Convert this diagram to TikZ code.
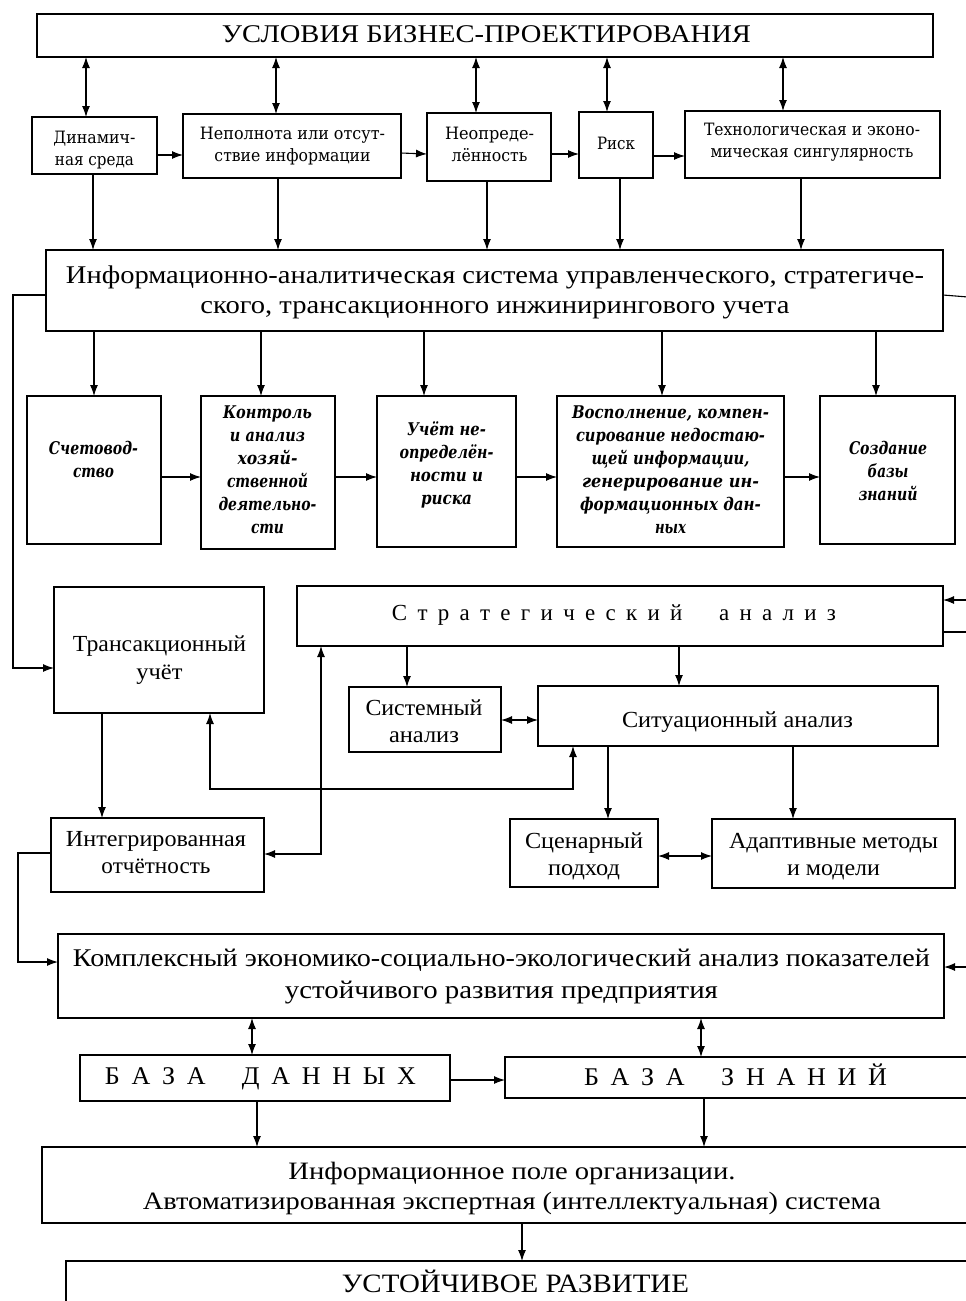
\documentclass[tikz,border=0pt]{standalone}
\usepackage{fontspec}
\usepackage{graphicx}
\setmainfont{Liberation Serif}
\newfontfamily\cam{DejaVu Serif}
\usetikzlibrary{arrows.meta}
\newcommand{\fitl}[2]{\resizebox{#1pt}{\height}{\rule{0pt}{0.75em}\rule[-0.25em]{0pt}{0.25em}#2}}
\newcommand{\lsp}{\hspace{0.45em}}
\begin{document}
\begin{tikzpicture}[x=1pt,y=-1pt,
  box/.style={draw, line width=1.3pt, inner sep=0pt, outer sep=0pt},
  lbl/.style={inner sep=0pt, outer sep=0pt, align=center},
  fbig/.style={font=\fontsize{25.5}{30}\selectfont},
  fkmp/.style={font=\fontsize{25.5}{32}\selectfont},
  fmid/.style={font=\fontsize{23}{28}\selectfont},
  fsys/.style={font=\fontsize{23}{27}\selectfont},
  fcam/.style={font={\cam\fontsize{17}{22}\selectfont}},
  fita/.style={font={\cam\bfseries\itshape\fontsize{17.5}{23}\selectfont}},
  con/.style={line width=1.1pt, -{Latex[length=11pt,width=8pt]}},
  bi/.style={line width=1.1pt, {Latex[length=11pt,width=8pt]}-{Latex[length=11pt,width=8pt]}},
  ln/.style={line width=1.1pt}]
\useasboundingbox (0,0) rectangle (966,1301);
\fill[white] (0,0) rectangle (966,1301);
\clip (0,0) rectangle (966,1301);

% boxes
\node[box, minimum width=896pt, minimum height=43pt] (top) at (485,35.5) {};
\node[box, minimum width=125pt, minimum height=57pt] (dyn) at (94.5,145.5) {};
\node[box, minimum width=218pt, minimum height=64pt] (nep) at (292,146) {};
\node[box, minimum width=124pt, minimum height=68pt] (neo) at (489,147) {};
\node[box, minimum width=74pt, minimum height=66pt] (risk) at (616,145) {};
\node[box, minimum width=255pt, minimum height=67pt] (tech) at (812.5,144.5) {};
\node[box, minimum width=897pt, minimum height=81pt] (ias) at (494.5,290.5) {};
\node[box, minimum width=134pt, minimum height=148pt] (sch) at (94,470) {};
\node[box, minimum width=134pt, minimum height=153pt] (ktr) at (268,472.5) {};
\node[box, minimum width=139pt, minimum height=151pt] (uch) at (446.5,471.5) {};
\node[box, minimum width=227pt, minimum height=151pt] (vos) at (670.5,471.5) {};
\node[box, minimum width=135pt, minimum height=148pt] (soz) at (887.5,470) {};
\node[box, minimum width=210pt, minimum height=126pt] (trn) at (159,650) {};
\node[box, minimum width=646pt, minimum height=60pt] (str) at (620,616) {};
\node[box, minimum width=152pt, minimum height=65pt] (sys) at (425,719.5) {};
\node[box, minimum width=400pt, minimum height=60pt] (sit) at (738,716) {};
\node[box, minimum width=213pt, minimum height=74pt] (int) at (157.5,855) {};
\node[box, minimum width=148pt, minimum height=68pt] (scn) at (584,853) {};
\node[box, minimum width=243pt, minimum height=69pt] (adp) at (833.5,853.5) {};
\node[box, minimum width=886pt, minimum height=84pt] (kmp) at (501,976) {};
\node[box, minimum width=370pt, minimum height=46pt] (bd) at (265,1078) {};
\node[box, minimum width=465pt, minimum height=41pt] (bz) at (737.5,1077.5) {};
\node[box, minimum width=948pt, minimum height=76pt] (inf) at (516,1185) {};
\node[box, minimum width=924pt, minimum height=69pt] (ust) at (528,1295.5) {};

% texts
\node[lbl, fbig] (t-top) at (486.5,36) {\fitl{529}{УСЛОВИЯ БИЗНЕС-ПРОЕКТИРОВАНИЯ}};
\node[lbl, fcam] (t-dyn) at (94.5,150) {\fitl{82}{Динамич-}\\\fitl{79}{ная среда}};
\node[lbl, fcam] (t-nep) at (292.5,146) {\fitl{185}{Неполнота или отсут-}\\\fitl{156}{ствие информации}};
\node[lbl, fcam] (t-neo) at (489.5,146.5) {\fitl{89}{Неопреде-}\\\fitl{76}{лённость}};
\node[lbl, fcam] (t-risk) at (616,145) {\fitl{38}{Риск}};
\node[lbl, fcam] (t-tech) at (812,142.5) {\fitl{216}{Технологическая и эконо-}\\\fitl{203}{мическая сингулярность}};
\node[lbl, fbig] (t-ias) at (495,292) {\fitl{858}{Информационно-аналитическая система управленческого, стратегиче-}\\\fitl{589}{ского, трансакционного инжинирингового учета}};
\node[lbl, fita] (t-sch) at (93.5,462) {\fitl{89}{Счетовод-}\\\fitl{41}{ство}};
\node[lbl, fita] (t-ktr) at (267.5,472) {\fitl{89}{Контроль}\\\fitl{75}{и анализ}\\\fitl{60}{хозяй-}\\\fitl{81}{ственной}\\\fitl{98}{деятельно-}\\\fitl{33}{сти}};
\node[lbl, fita] (t-uch) at (446.5,465.5) {\fitl{79}{Учёт не-}\\\fitl{94}{определён-}\\\fitl{73}{ности и}\\\fitl{51}{риска}};
\node[lbl, fita] (t-vos) at (670.5,471.5) {\fitl{197}{Восполнение, компен-}\\\fitl{189}{сирование недостаю-}\\\fitl{158}{щей информации,}\\\fitl{177}{генерирование ин-}\\\fitl{181}{формационных дан-}\\\fitl{31}{ных}};
\node[lbl, fita] (t-soz) at (888,473) {\fitl{78}{Создание}\\\fitl{41}{базы}\\\fitl{59}{знаний}};
\node[lbl, fmid] (t-trn) at (159.5,660) {\fitl{173}{Трансакционный}\\\fitl{46}{учёт}};
\node[lbl, fmid] (t-str) at (614,615) {\fitl{444}{С\lsp т\lsp р\lsp а\lsp т\lsp е\lsp г\lsp и\lsp ч\lsp е\lsp с\lsp к\lsp и\lsp й\hspace{1.6em}а\lsp н\lsp а\lsp л\lsp и\lsp з}};
\node[lbl, fsys] (t-sys) at (424,723.5) {\fitl{117}{Системный}\\\fitl{70}{анализ}};
\node[lbl, fmid] (t-sit) at (737.5,722) {\fitl{231}{Ситуационный анализ}};
\node[lbl, fsys] (t-int) at (156,854.5) {\fitl{180}{Интегрированная}\\\fitl{109}{отчётность}};
\node[lbl, fsys] (t-scn) at (584,856.5) {\fitl{118}{Сценарный}\\\fitl{72}{подход}};
\node[lbl, fsys] (t-adp) at (833.5,856.5) {\fitl{209}{Адаптивные методы}\\\fitl{93}{и модели}};
\node[lbl, fkmp] (t-kmp) at (501.5,976) {\fitl{857}{Комплексный экономико-социально-экологический анализ показателей}\\\fitl{433}{устойчивого развития предприятия}};
\node[lbl, fbig] (t-bd) at (260.5,1078) {\fitl{311}{Б\lsp А\lsp З\lsp А\hspace{1.4em}Д\lsp А\lsp Н\lsp Н\lsp Ы\lsp Х}};
\node[lbl, fbig] (t-bz) at (735.5,1078) {\fitl{303}{Б\lsp А\lsp З\lsp А\hspace{1.4em}З\lsp Н\lsp А\lsp Н\lsp И\lsp Й}};
\node[lbl, font=\fontsize{25}{30}\selectfont] (t-inf) at (512,1188) {\fitl{447}{Информационное поле организации.}\\\fitl{738}{Автоматизированная экспертная (интеллектуальная) система}};
\node[lbl, font=\fontsize{26.5}{30}\selectfont] (t-ust) at (515.5,1285) {\fitl{347}{УСТОЙЧИВОЕ РАЗВИТИЕ}};

% free ends at the right edge
\coordinate (e1) at (968,297);
\coordinate (e2) at (968,600);
\coordinate (e3) at (968,632);
\coordinate (e4) at (968,967);

% title <-> row 2
\draw[bi] (top.south -| 86,0) -- (dyn.north -| 86,0);
\draw[bi] (top.south -| 276,0) -- (nep.north -| 276,0);
\draw[bi] (top.south -| 476,0) -- (neo.north -| 476,0);
\draw[bi] (top.south -| 607,0) -- (risk.north -| 607,0);
\draw[bi] (top.south -| 783,0) -- (tech.north -| 783,0);
% row 2 chain
\draw[con] (dyn.east |- 0,155) -- (nep.west |- 0,155);
\draw[con] (nep.east |- 0,153) -- (neo.west |- 0,154);
\draw[con] (neo.east |- 0,154) -- (risk.west |- 0,154);
\draw[con] (risk.east |- 0,156) -- (tech.west |- 0,156);
% row 2 -> ias
\draw[con] (dyn.south -| 93,0) -- (ias.north -| 93,0);
\draw[con] (nep.south -| 278,0) -- (ias.north -| 278,0);
\draw[con] (neo.south -| 487,0) -- (ias.north -| 487,0);
\draw[con] (risk.south -| 620,0) -- (ias.north -| 620,0);
\draw[con] (tech.south -| 801,0) -- (ias.north -| 801,0);
% ias -> row 4
\draw[con] (ias.south -| 94,0) -- (sch.north -| 94,0);
\draw[con] (ias.south -| 261,0) -- (ktr.north -| 261,0);
\draw[con] (ias.south -| 424,0) -- (uch.north -| 424,0);
\draw[con] (ias.south -| 662,0) -- (vos.north -| 662,0);
\draw[con] (ias.south -| 876,0) -- (soz.north -| 876,0);
% row 4 chain
\draw[con] (sch.east |- 0,477) -- (ktr.west |- 0,477);
\draw[con] (ktr.east |- 0,477) -- (uch.west |- 0,477);
\draw[con] (uch.east |- 0,477) -- (vos.west |- 0,477);
\draw[con] (vos.east |- 0,477) -- (soz.west |- 0,477);
% left loops
\draw[con] (ias.west |- 0,295) -- (13,295) -- (13,668) -- (trn.west |- 0,668);
\draw[con] (int.west |- 0,853) -- (18,853) -- (18,962) -- (kmp.west |- 0,962);
% right edge
\draw[ln] (ias.east |- 0,295) -- (e1);
\draw[con] (e2) -- (str.east |- e2);
\draw[ln] (str.east |- e3) -- (e3);
\draw[con] (e4) -- (kmp.east |- e4);
% middle section
\draw[con] (trn.south -| 102,0) -- (int.north -| 102,0);
\draw[bi] (int.east |- 0,854) -- (321,854) -- (str.south -| 321,0);
\draw[bi] (trn.south -| 210,0) -- (210,789) -- (573,789) -- (sit.south -| 573,0);
\draw[con] (str.south -| 407,0) -- (sys.north -| 407,0);
\draw[con] (str.south -| 679,0) -- (sit.north -| 679,0);
\draw[bi] (sys.east |- 0,720) -- (sit.west |- 0,720);
\draw[con] (sit.south -| 608,0) -- (scn.north -| 608,0);
\draw[con] (sit.south -| 793,0) -- (adp.north -| 793,0);
\draw[bi] (scn.east |- 0,856) -- (adp.west |- 0,856);
% bottom
\draw[bi] (kmp.south -| 252,0) -- (bd.north -| 252,0);
\draw[bi] (kmp.south -| 701,0) -- (bz.north -| 701,0);
\draw[con] (bd.east |- 0,1080) -- (bz.west |- 0,1080);
\draw[con] (bd.south -| 257,0) -- (inf.north -| 257,0);
\draw[con] (bz.south -| 704,0) -- (inf.north -| 704,0);
\draw[con] (inf.south -| 522,0) -- (ust.north -| 522,0);
\end{tikzpicture}
\end{document}
